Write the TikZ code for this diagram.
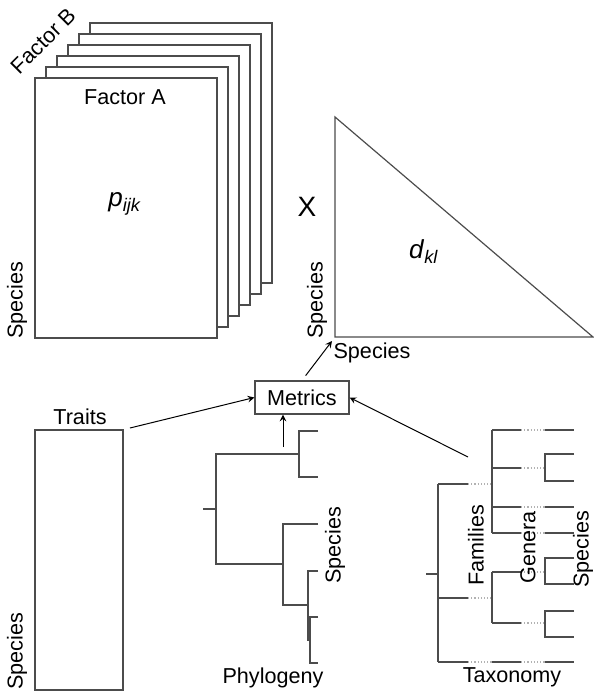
\documentclass[tikz,border=0pt]{standalone}
\usepackage{fontspec}
\setmainfont{Liberation Sans}
\usepackage{tikz}
\usetikzlibrary{calc}

\tikzset{
  ln/.style={black!70, line width=0.6pt},
  dotln/.style={black!30, line width=0.6pt, densely dotted},
  lbl/.style={font=\fontsize{10.8}{13}\selectfont, inner sep=0pt},
  big/.style={font=\fontsize{13}{15}\selectfont, inner sep=0pt},
  arr/.style={->, >=stealth, black, line width=0.5pt}
}

\begin{document}
\begin{tikzpicture}[x=0.5pt,y=-0.5pt]
  \useasboundingbox (0,0) rectangle (594,691);
  % Các trang (Factor B)
  \foreach \i in {5,4,...,0}{
    \draw[ln, fill=white] ({35+11*\i},{78-11*\i}) rectangle ({217+11*\i},{338-11*\i});
  }
  \node[lbl] (facA) at (125,97) {Factor A};
  \node[lbl, rotate=45] (facB) at (43,41) {Factor B};
  \node[big] (pijk) at (125,204) {\textit{p}\textsubscript{\textit{ijk}}};
  \node[lbl, rotate=90] (spA) at (17,300) {Species};
  \node[big, font=\fontsize{14}{16}\selectfont] (times) at (307,207) {X};
  % Tam giác d_kl
  \coordinate (T) at (335,117);
  \coordinate (L) at (335,337);
  \coordinate (R) at (593,337);
  \draw[ln] (T) -- (L) -- (R) -- cycle;
  \node[big] (dkl) at (424,252) {\textit{d}\textsubscript{\textit{kl}}};
  \node[lbl, rotate=90] (spB) at (317,300) {Species};
  \node[lbl] (spC) at (372,353) {Species};
  \coordinate (dcorner) at (332,341);
  % Metrics
  \node[lbl, draw=black!70, line width=0.6pt, minimum width=47pt, minimum height=16.5pt] (metrics) at (302,397.5) {Metrics};
  % Traits
  \node[lbl] (traits) at (80,417) {Traits};
  \draw[ln] (35,430) rectangle (123,690);
  \node[lbl, rotate=90] (spD) at (17,651) {Species};
  % Phylogeny
  \draw[ln] (203,509) -- (216,509);
  \draw[ln] (283,564) -| (216,454) -- (299,454);
  \draw[ln] (318,431) -| (299,477) -- (318,477);
  \draw[ln] (318,524) -| (283,605) -- (308,605);
  \draw[ln] (318,571) -| (308,640) -- (310,640);
  \draw[ln] (318,617) -| (310,663) -- (318,663);
  \node[lbl, rotate=90] (spE) at (335,545) {Species};
  \node[lbl] (phylo) at (273,678) {Phylogeny};
  % Taxonomy
  \draw[ln] (426,574) -- (438,574);
  \draw[ln] (438,484) -- (438,662);
  \foreach \y in {484,598,662}{
    \draw[ln] (438,\y) -- (468,\y);
    \draw[dotln] (468,\y) -- (492,\y);
  }
  \draw[ln] (492,430) -- (492,533);
  \draw[ln] (492,572) -- (492,623);
  \foreach \y in {430,468,507,533,572,623,662}{
    \draw[ln] (492,\y) -- (521,\y);
    \draw[dotln] (521,\y) -- (545,\y);
  }
  \foreach \y in {430,507,533,662}{
    \draw[ln] (545,\y) -- (574,\y);
  }
  \foreach \a/\b in {454/481,558/584,611/637}{
    \draw[ln] (574,\a) -| (545,\b) -- (574,\b);
  }
  \node[lbl, rotate=90] (fam) at (476,545) {Families};
  \node[lbl, rotate=90] (gen) at (528,547) {Genera};
  \node[lbl, rotate=90] (spF) at (583,549) {Species};
  \node[lbl] (taxo) at (512,677) {Taxonomy};
  % Mũi tên
  \coordinate (trA) at (130,428);
  \coordinate (phA) at (283,447);
  \coordinate (txA) at (468,457);
  \draw[arr] (trA) -- (metrics.west);
  \draw[arr] (phA) -- (phA |- metrics.south);
  \draw[arr] (txA) -- (metrics.east);
  \draw[arr, shorten <=3pt] (metrics.north) -- (dcorner);
\end{tikzpicture}
\end{document}
